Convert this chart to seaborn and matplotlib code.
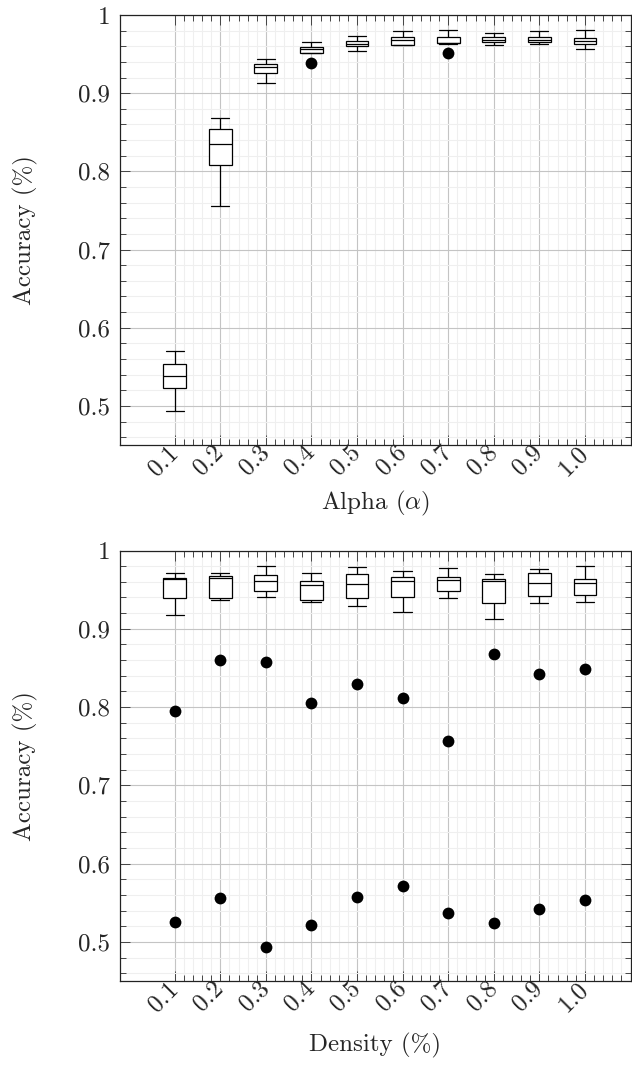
import numpy as np
import pandas as pd
import matplotlib
matplotlib.use("Agg")
import matplotlib.pyplot as plt
from matplotlib.ticker import FixedLocator, MultipleLocator
import seaborn as sns

# ---------------- data ----------------
labels = ['0.1', '0.2', '0.3', '0.4', '0.5', '0.6', '0.7', '0.8', '0.9', '1.0']

alpha_min = [0.493, 0.756, 0.913, 0.9517, 0.954, 0.9611, 0.9625, 0.962, 0.9628, 0.956]
alpha_q1 = [0.5235, 0.8085, 0.926, 0.9517, 0.9603, 0.9611, 0.9637, 0.965, 0.965, 0.9624]
alpha_med = [0.538, 0.8355, 0.9338, 0.9564, 0.9628, 0.968, 0.9645, 0.9684, 0.9684, 0.967]
alpha_q3 = [0.553, 0.8538, 0.9372, 0.9586, 0.9662, 0.9722, 0.9718, 0.9714, 0.9718, 0.9701]
alpha_max = [0.570, 0.8684, 0.9436, 0.965, 0.9727, 0.979, 0.981, 0.9769, 0.979, 0.9808]
alpha_out_x = ['0.4', '0.7']
alpha_out_y = [0.938, 0.951]

dens_min = [0.918, 0.9362, 0.940, 0.9342, 0.929, 0.9218, 0.9388, 0.912, 0.9329, 0.9342]
dens_q1 = [0.9388, 0.9393, 0.9482, 0.9362, 0.9397, 0.940, 0.9477, 0.9333, 0.9413, 0.9426]
dens_med = [0.9635, 0.9655, 0.9614, 0.9559, 0.9571, 0.9605, 0.9626, 0.9605, 0.9579, 0.9584]
dens_q3 = [0.9643, 0.9673, 0.9686, 0.9614, 0.9703, 0.9656, 0.9656, 0.963, 0.9707, 0.963]
dens_max = [0.9707, 0.9707, 0.980, 0.9707, 0.9792, 0.9737, 0.978, 0.9699, 0.9758, 0.980]
dens_out_hi = [0.795, 0.860, 0.858, 0.805, 0.829, 0.812, 0.756, 0.868, 0.842, 0.849]
dens_out_lo = [0.526, 0.556, 0.494, 0.522, 0.557, 0.571, 0.537, 0.524, 0.542, 0.553]

ytick_vals = [0.5, 0.6, 0.7, 0.8, 0.9, 1.0]
ytick_labels = ['0.5', '0.6', '0.7', '0.8', '0.9', '1']


def long_df(mins, q1s, meds, q3s, maxs):
    rows = []
    for lab, a, b, c, d, e in zip(labels, mins, q1s, meds, q3s, maxs):
        for v in (a, b, c, d, e):
            rows.append({'x': lab, 'y': v})
    return pd.DataFrame(rows)


df_alpha = long_df(alpha_min, alpha_q1, alpha_med, alpha_q3, alpha_max)
df_alpha_out = pd.DataFrame({'x': alpha_out_x, 'y': alpha_out_y})
df_dens = long_df(dens_min, dens_q1, dens_med, dens_q3, dens_max)
df_dens_out = pd.DataFrame({'x': labels + labels, 'y': dens_out_hi + dens_out_lo})

# ---------------- style ----------------
sns.set_theme(style='white')
plt.rcParams['font.family'] = ['cmr10', 'DejaVu Serif']
plt.rcParams['mathtext.fontset'] = 'cm'
plt.rcParams['axes.unicode_minus'] = False
plt.rcParams['axes.formatter.use_mathtext'] = True

FS = 18

fig = plt.figure(figsize=(6.32, 10.67), dpi=100)
W, H = 632, 1067
ax1 = fig.add_axes([120 / W, 1 - 445 / H, 510.5 / W, 430 / H])
ax2 = fig.add_axes([120 / W, 1 - 981 / H, 510.5 / W, 430.5 / H])


def draw(ax, df, df_out, xlabel, xlabel_y):
    sns.boxplot(data=df, x='x', y='y', order=labels, whis=(0, 100), width=0.5,
                color='white', saturation=1, linecolor='black', linewidth=0.9,
                fliersize=0, capwidths=0.4, ax=ax, zorder=3)
    sns.stripplot(data=df_out, x='x', y='y', order=labels, jitter=False,
                  color='black', size=8.5, linewidth=0, ax=ax, zorder=4)
    ax.set_xlim(-1.2, 10.0)
    ax.set_ylim(0.45, 1.0)
    ax.xaxis.set_major_locator(FixedLocator(list(range(10))))
    ax.set_xticklabels(labels)
    minor_x = [i + k * 0.2 for i in range(10) for k in range(1, 5)]
    ax.xaxis.set_minor_locator(FixedLocator(minor_x))
    ax.yaxis.set_major_locator(FixedLocator(ytick_vals))
    ax.set_yticklabels(ytick_labels)
    ax.yaxis.set_minor_locator(MultipleLocator(0.02))
    ax.set_axisbelow(True)
    ax.grid(True, which='major', color='#c4c4c4', linewidth=0.8)
    ax.grid(True, which='minor', color='#efefef', linewidth=0.8)
    ax.tick_params(which='both', direction='in', top=True, right=True,
                   bottom=True, left=True, color='#444444', width=0.7)
    ax.tick_params(which='major', length=7.5)
    ax.tick_params(which='minor', length=4.5)
    ax.tick_params(axis='y', which='major', pad=7, labelsize=FS)
    ax.tick_params(axis='x', which='major', pad=3, labelsize=FS)
    for t in ax.get_xticklabels():
        t.set_rotation(45)
        t.set_ha('right')
        t.set_va('center')
        t.set_rotation_mode('anchor')
    for s in ax.spines.values():
        s.set_color('#222222')
        s.set_linewidth(0.9)
        s.set_visible(True)
    ax.set_ylabel('Accuracy (%)', fontsize=FS)
    ax.yaxis.set_label_coords(-0.16, 0.5)
    ax.set_xlabel(xlabel, fontsize=FS)
    ax.xaxis.set_label_coords(0.5, xlabel_y)


draw(ax1, df_alpha, df_alpha_out, r'Alpha ($\alpha$)', -0.103)
draw(ax2, df_dens, df_dens_out, 'Density (%)', -0.12)

fig.savefig('out.png', dpi=100)
